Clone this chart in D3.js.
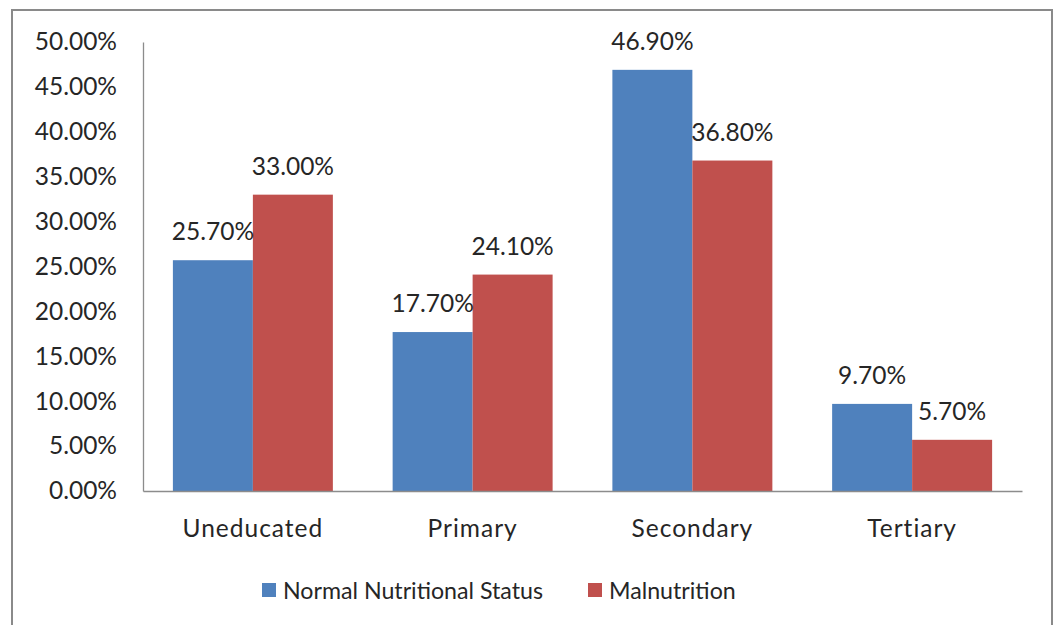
<!DOCTYPE html>
<html><head><meta charset="utf-8">
<script src="https://cdn.jsdelivr.net/npm/d3@7"></script>
<style>
html,body{margin:0;padding:0;background:#fff;}
svg{display:block;}
text{font-family:Lato, "Open Sans", sans-serif;fill:#262626;}
</style></head>
<body>
<svg id="chart" width="1058" height="625"></svg>
<script>
const categories = ["Uneducated", "Primary", "Secondary", "Tertiary"];
const seriesNames = ["Normal Nutritional Status", "Malnutrition"];
const normalValues = [25.7, 17.7, 46.9, 9.7];
const malnutritionValues = [33.0, 24.1, 36.8, 5.7];
const yTicks = [0, 5, 10, 15, 20, 25, 30, 35, 40, 45, 50];
const colors = ["#4F81BD", "#C0504D"];

(function () {
const svg = d3.select("#chart");

// outer frame
svg.append("rect").attr("x", 12).attr("y", 10).attr("width", 1040).attr("height", 640)
  .attr("fill", "none").attr("stroke", "#8a8a8a").attr("stroke-width", 2);

const pLeft = 143, pRight = 1022, pTop = 42, pBottom = 491;
const x0 = d3.scaleBand().domain(categories).range([pLeft, pRight]).paddingInner(0.272).paddingOuter(0.136);
const x1 = d3.scaleBand().domain(seriesNames).range([0, x0.bandwidth()]);
const y = d3.scaleLinear().domain([0, 50]).range([pBottom, pTop]);

// y axis
const yAxis = d3.axisLeft(y).tickValues(yTicks).tickSize(0).tickPadding(26)
  .tickFormat(d => d.toFixed(2) + "%");
const gy = svg.append("g").attr("transform", `translate(${pLeft},0)`).call(yAxis);
gy.select(".domain").attr("stroke", "#8c8c8c").attr("stroke-width", 1.3);
gy.selectAll("text").attr("font-size", 24.5).style("font-family", "Lato, sans-serif").attr("fill", "#262626");

// bars
const data = categories.map((c, i) => ({cat: c, vals: [normalValues[i], malnutritionValues[i]]}));
const groups = svg.append("g").selectAll("g").data(data).join("g")
  .attr("transform", d => `translate(${x0(d.cat)},0)`);
groups.selectAll("rect").data(d => d.vals.map((v, j) => ({v, s: seriesNames[j], j})))
  .join("rect")
  .attr("x", d => x1(d.s)).attr("width", x1.bandwidth())
  .attr("y", d => y(d.v)).attr("height", d => y(0) - y(d.v))
  .attr("fill", d => colors[d.j]);
groups.selectAll("text.lbl").data(d => d.vals.map((v, j) => ({v, s: seriesNames[j], j})))
  .join("text").attr("class", "lbl")
  .attr("x", d => x1(d.s) + x1.bandwidth() / 2)
  .attr("y", d => y(d.v) - 20)
  .attr("text-anchor", "middle").attr("font-size", 24.5)
  .text(d => d.v.toFixed(2) + "%");

// x axis
const xAxis = d3.axisBottom(x0).tickSize(0).tickPadding(29);
const gx = svg.append("g").attr("transform", `translate(0,${pBottom})`).call(xAxis);
gx.select(".domain").attr("stroke", "#8c8c8c").attr("stroke-width", 1.3);
gx.selectAll("text").attr("font-size", 24.5).style("font-family", "Lato, sans-serif")
  .style("letter-spacing", "1px").attr("fill", "#262626");

// legend
const legendItems = [{name: seriesNames[0], x: 262}, {name: seriesNames[1], x: 588}];
const lg = svg.append("g").selectAll("g").data(legendItems).join("g")
  .attr("transform", d => `translate(${d.x},583)`);
lg.append("rect").attr("width", 14).attr("height", 14).attr("fill", (d, i) => colors[i]);
lg.append("text").attr("x", 21).attr("y", 15.5).attr("font-size", 23.2).text(d => d.name);
})();
</script>
</body></html>
